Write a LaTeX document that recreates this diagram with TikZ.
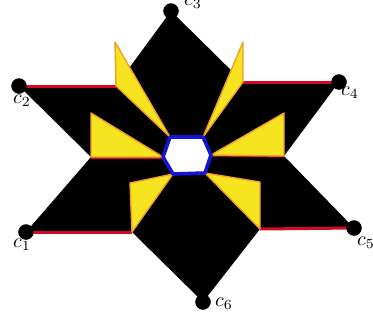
\documentclass[tikz,border=0pt]{standalone}
\definecolor{triyellow}{RGB}{246,228,32}
\definecolor{triorange}{RGB}{238,160,40}
\definecolor{starred}{RGB}{210,10,35}
\definecolor{hexblue}{RGB}{20,20,215}
\begin{document}
\begin{tikzpicture}[x=0.5pt,y=-0.5pt,
  dot/.style={circle,fill=black,inner sep=0pt,minimum size=7.6pt},
  redline/.style={draw=starred,line width=1.5pt},
  tri/.style={fill=triyellow,draw=triorange,line width=0.7pt,line join=round},
  hexa/.style={fill=white,draw=hexblue,line width=1.8pt,line join=round},
  lab/.style={inner sep=1pt,font=\normalsize}]
\useasboundingbox (0,0) rectangle (373,322);
% outer points
\node[dot] (c1) at (26,232) {};
\node[dot] (c2) at (19,86) {};
\node[dot] (c3) at (171,11) {};
\node[dot] (c4) at (339,82) {};
\node[dot] (c5) at (354,228) {};
\node[dot] (c6) at (203,302) {};
% inner star points
\coordinate (p12) at (91,157);
\coordinate (p23) at (116,86);
\coordinate (p34) at (243,82);
\coordinate (p45) at (284,156);
\coordinate (p56) at (260,229);
\coordinate (p61) at (132,232);
% hexagon
\coordinate (h1) at (170,137);
\coordinate (h2) at (203,137);
\coordinate (h3) at (211,155);
\coordinate (h4) at (205,173);
\coordinate (h5) at (173,174);
\coordinate (h6) at (163,157);
% triangle tips
\coordinate (t23) at (115,42);
\coordinate (t34) at (243,42);
\coordinate (t12) at (91,113);
\coordinate (t45) at (284,113);
\coordinate (t61) at (130,183);
\coordinate (t56) at (260,182);
% black star
\fill[black] (c1.center) -- (p61) -- (c6.center) -- (p56) -- (c5.center) -- (p45) -- (c4.center) -- (p34) -- (c3.center) -- (p23) -- (c2.center) -- (p12) -- cycle;
% red lines
\draw[redline] (c1.center) -- (p61);
\draw[redline] (c2.center) -- (p23);
\draw[redline] (c4.center) -- (p34);
\draw[redline] (c5.center) -- (p56);
\draw[redline] (p12) -- (h6);
\draw[redline] (p45) -- (h3);
% yellow triangles
\draw[tri] (t23) -- (p23) -- (h1) -- cycle;
\draw[tri] (t34) -- (p34) -- (h2) -- cycle;
\draw[tri] (t12) -- (p12) -- (h6) -- cycle;
\draw[tri] (t45) -- (p45) -- (h3) -- cycle;
\draw[tri] (t61) -- (p61) -- (h5) -- cycle;
\draw[tri] (t56) -- (p56) -- (h4) -- cycle;
% hexagon
\draw[hexa] (h1) -- (h2) -- (h3) -- (h4) -- (h5) -- (h6) -- cycle;
% dots on top
\foreach \c in {c1,c2,c3,c4,c5,c6} \fill (\c) circle (7.6);
% labels
\node[lab] (l1) at (22,245) {$c_1$};
\node[lab] (l2) at (22,101) {$c_2$};
\node[lab] (l3) at (193,3) {$c_3$};
\node[lab] (l4) at (350,93) {$c_4$};
\node[lab] (l5) at (366,243) {$c_5$};
\node[lab] (l6) at (224,304) {$c_6$};
\end{tikzpicture}
\end{document}
